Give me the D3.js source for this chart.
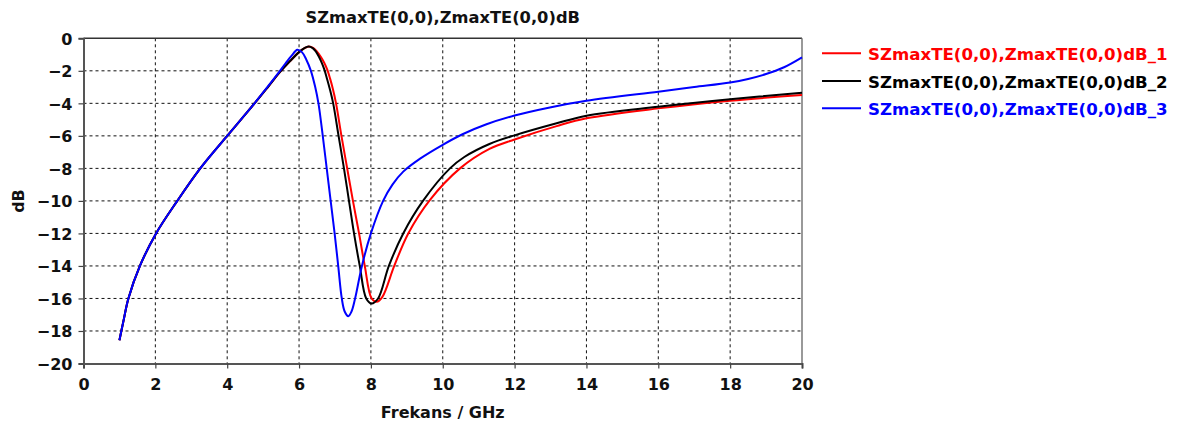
<!DOCTYPE html>
<html>
<head>
<meta charset="utf-8">
<script src="https://cdn.jsdelivr.net/npm/d3@7"></script>
<style>
  html, body { margin: 0; padding: 0; background: #fff; }
  svg { display: block; font-family: "DejaVu Sans", Verdana, sans-serif; font-weight: bold; }
</style>
</head>
<body>
<svg id="chart" width="1200" height="425"></svg>
<script>
// Chart text
const chartTitle = "SZmaxTE(0,0),ZmaxTE(0,0)dB";
const xLabel = "Frekans / GHz";
const yLabel = "dB";
const seriesNames = [
  "SZmaxTE(0,0),ZmaxTE(0,0)dB_1",
  "SZmaxTE(0,0),ZmaxTE(0,0)dB_2",
  "SZmaxTE(0,0),ZmaxTE(0,0)dB_3"
];
const seriesColors = ["#ff0000", "#000000", "#0000ff"];

// Tick values
const xTicks = [0, 2, 4, 6, 8, 10, 12, 14, 16, 18, 20];
const yTicks = [0, -2, -4, -6, -8, -10, -12, -14, -16, -18, -20];

// Series: [frequency GHz, level dB]
const series1 = [
  [1.0, -18.57], [1.12, -17.3], [1.25, -16], [1.57, -14], [2.02, -12], [2.61, -10],
  [3.25, -8], [4.0, -6], [4.4, -4.95], [4.8, -3.9], [5.15, -2.95], [5.46, -2.1],
  [5.75, -1.4], [6.0, -0.85], [6.14, -0.62], [6.28, -0.5], [6.4, -0.6],
  [6.5, -0.82], [6.6, -1.12], [6.7, -1.5], [6.78, -1.9], [6.86, -2.45],
  [6.94, -3.1], [7.03, -4], [7.18, -6], [7.34, -8], [7.50, -10], [7.67, -12],
  [7.83, -14], [8.02, -16], [8.16, -16.2], [8.32, -15.9], [8.65, -14], [9.04, -12],
  [9.64, -9.95], [10.48, -8], [11.3, -6.8], [12, -6.22], [13.17, -5.4],
  [14, -4.92], [16, -4.31], [18, -3.84], [20, -3.49]
];
const series2 = [
  [1.0, -18.57], [1.12, -17.3], [1.25, -16], [1.57, -14], [2.02, -12], [2.61, -10],
  [3.25, -8], [4.0, -6], [4.4, -4.95], [4.8, -3.9], [5.15, -2.95], [5.46, -2.1],
  [5.75, -1.4], [6.0, -0.85], [6.14, -0.62], [6.26, -0.5], [6.38, -0.6],
  [6.47, -0.82], [6.55, -1.12], [6.63, -1.5], [6.7, -1.9], [6.78, -2.5],
  [6.86, -3.15], [6.95, -4], [7.1, -6], [7.25, -8], [7.39, -10], [7.53, -12],
  [7.69, -14], [7.87, -16], [8.02, -16.31], [8.2, -16], [8.5, -14], [8.9, -12],
  [9.45, -10], [10.2, -8], [10.6, -7.3], [11.3, -6.5], [12, -5.97],
  [13.17, -5.23], [14, -4.76], [16, -4.21], [18, -3.75], [20, -3.35]
];
const series3 = [
  [1.0, -18.57], [1.12, -17.3], [1.25, -16], [1.57, -14], [2.02, -12], [2.61, -10],
  [3.25, -8], [4.0, -6], [4.38, -5], [4.76, -4], [5.1, -3.05], [5.4, -2.2],
  [5.62, -1.55], [5.8, -1.05], [5.95, -0.7], [6.08, -0.85], [6.2, -1.3],
  [6.33, -2], [6.45, -3], [6.54, -4], [6.66, -6], [6.77, -8], [6.88, -10],
  [6.99, -12], [7.09, -14], [7.19, -16], [7.27, -16.8], [7.37, -17.09],
  [7.46, -16.8], [7.56, -16], [7.75, -14], [8.0, -12], [8.34, -10], [8.6, -9.0],
  [8.9, -8.2], [9.37, -7.4], [10, -6.55], [10.55, -5.9], [11.2, -5.3], [12, -4.75],
  [12.98, -4.25], [14, -3.84], [16, -3.28], [17, -3.0], [18, -2.72],
  [18.5, -2.5], [19, -2.2], [19.5, -1.78], [20, -1.17]
];
const allSeries = [series1, series2, series3];

const svg = d3.select("#chart");
const plot = { left: 83.5, right: 802, top: 38.3, bottom: 363.5 };

const x = d3.scaleLinear().domain([0, 20]).range([plot.left, plot.right]);
const y = d3.scaleLinear().domain([-20, 0]).range([plot.bottom, plot.top]);

// Dashed grid
const grid = svg.append("g");
grid.selectAll("line.vx")
  .data(xTicks.filter(t => t > 0 && t < 20))
  .enter().append("line")
  .attr("x1", d => x(d)).attr("x2", d => x(d))
  .attr("y1", plot.top).attr("y2", plot.bottom)
  .attr("stroke", "#111").attr("stroke-width", 1).attr("stroke-dasharray", "3,3");
grid.selectAll("line.hy")
  .data(yTicks.filter(t => t < 0 && t > -20))
  .enter().append("line")
  .attr("x1", plot.left).attr("x2", plot.right)
  .attr("y1", d => y(d)).attr("y2", d => y(d))
  .attr("stroke", "#111").attr("stroke-width", 1).attr("stroke-dasharray", "3,3");

// Frame: top and right edges
svg.append("line")
  .attr("x1", plot.left).attr("x2", plot.right)
  .attr("y1", plot.top).attr("y2", plot.top)
  .attr("stroke", "#333").attr("stroke-width", 1.5);
svg.append("line")
  .attr("x1", plot.right).attr("x2", plot.right)
  .attr("y1", plot.top).attr("y2", plot.bottom)
  .attr("stroke", "#777").attr("stroke-width", 1.5);

// Curves
const line = d3.line()
  .x(d => x(d[0]))
  .y(d => y(d[1]))
  .curve(d3.curveCatmullRom.alpha(0.5));

const drawOrder = [0, 1, 2];
svg.append("g").selectAll("path")
  .data(drawOrder)
  .enter().append("path")
  .attr("d", i => line(allSeries[i]))
  .attr("fill", "none")
  .attr("stroke", i => seriesColors[i])
  .attr("stroke-width", 2)
  .attr("stroke-linejoin", "round");

// Axes
const xAxis = d3.axisBottom(x).tickValues(xTicks).tickSize(5).tickPadding(5);
const yAxis = d3.axisLeft(y).tickValues(yTicks).tickSize(5).tickPadding(5);

const gx = svg.append("g")
  .attr("transform", `translate(0,${plot.bottom})`)
  .call(xAxis);
const gy = svg.append("g")
  .attr("transform", `translate(${plot.left},0)`)
  .call(yAxis);

[gx, gy].forEach(g => {
  g.select(".domain").attr("stroke", "#555").attr("stroke-width", 2);
  g.selectAll(".tick line").attr("stroke", "#444").attr("stroke-width", 1.2);
  g.selectAll(".tick text")
    .attr("fill", "#111")
    .style("font-family", "'DejaVu Sans', Verdana, sans-serif")
    .style("font-weight", "bold")
    .style("font-size", "16px");
});
gx.selectAll(".tick text").attr("dy", "1em");
gy.selectAll(".tick text").attr("x", -11).attr("dy", "0.36em");

// Title and axis labels
svg.append("text")
  .attr("x", (plot.left + plot.right) / 2).attr("y", 23)
  .attr("text-anchor", "middle")
  .attr("fill", "#111")
  .style("font-size", "16.3px")
  .text(chartTitle);

svg.append("text")
  .attr("x", (plot.left + plot.right) / 2).attr("y", 418)
  .attr("text-anchor", "middle")
  .attr("fill", "#111")
  .style("font-size", "16px")
  .text(xLabel);

svg.append("text")
  .attr("transform", "translate(24,201) rotate(-90)")
  .attr("text-anchor", "middle")
  .attr("fill", "#111")
  .style("font-size", "16px")
  .text(yLabel);

// Legend
const legend = svg.append("g");
const legendY = [53.3, 81, 108.3];
seriesNames.forEach((name, i) => {
  legend.append("line")
    .attr("x1", 822).attr("x2", 861)
    .attr("y1", legendY[i]).attr("y2", legendY[i])
    .attr("stroke", seriesColors[i]).attr("stroke-width", 2);
  legend.append("text")
    .attr("x", 868).attr("y", legendY[i] + 6.5)
    .attr("fill", seriesColors[i])
    .style("font-size", "16.6px")
    .text(name);
});
</script>
</body>
</html>
